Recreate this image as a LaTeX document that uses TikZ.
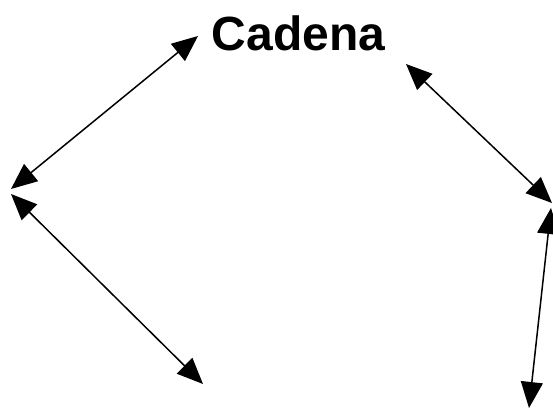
\documentclass[tikz,border=0pt]{standalone}
\usepackage{fontspec}
\setmainfont{Liberation Sans}
\usetikzlibrary{arrows.meta}
\begin{document}
\begin{tikzpicture}[x=1pt,y=-1pt,
  dbl/.style={line width=1.5pt,{Triangle[length=26pt,width=22pt]}-{Triangle[length=26pt,width=22pt]}}]
\useasboundingbox (0,0) rectangle (553,410);
\node[anchor=base,inner sep=0pt,font=\fontsize{48}{50}\selectfont\bfseries] (t) at (298.5,50) {Cadena};
\coordinate (a1) at (198,36);
\coordinate (a2) at (11,189);
\coordinate (b1) at (11,194);
\coordinate (b2) at (203,384);
\coordinate (c1) at (406,64);
\coordinate (c2) at (552,203);
\coordinate (d1) at (551,208);
\coordinate (d2) at (529,408);
\draw[dbl] (a1) -- (a2);
\draw[dbl] (b1) -- (b2);
\draw[dbl] (c1) -- (c2);
\draw[dbl] (d1) -- (d2);
\end{tikzpicture}
\end{document}
